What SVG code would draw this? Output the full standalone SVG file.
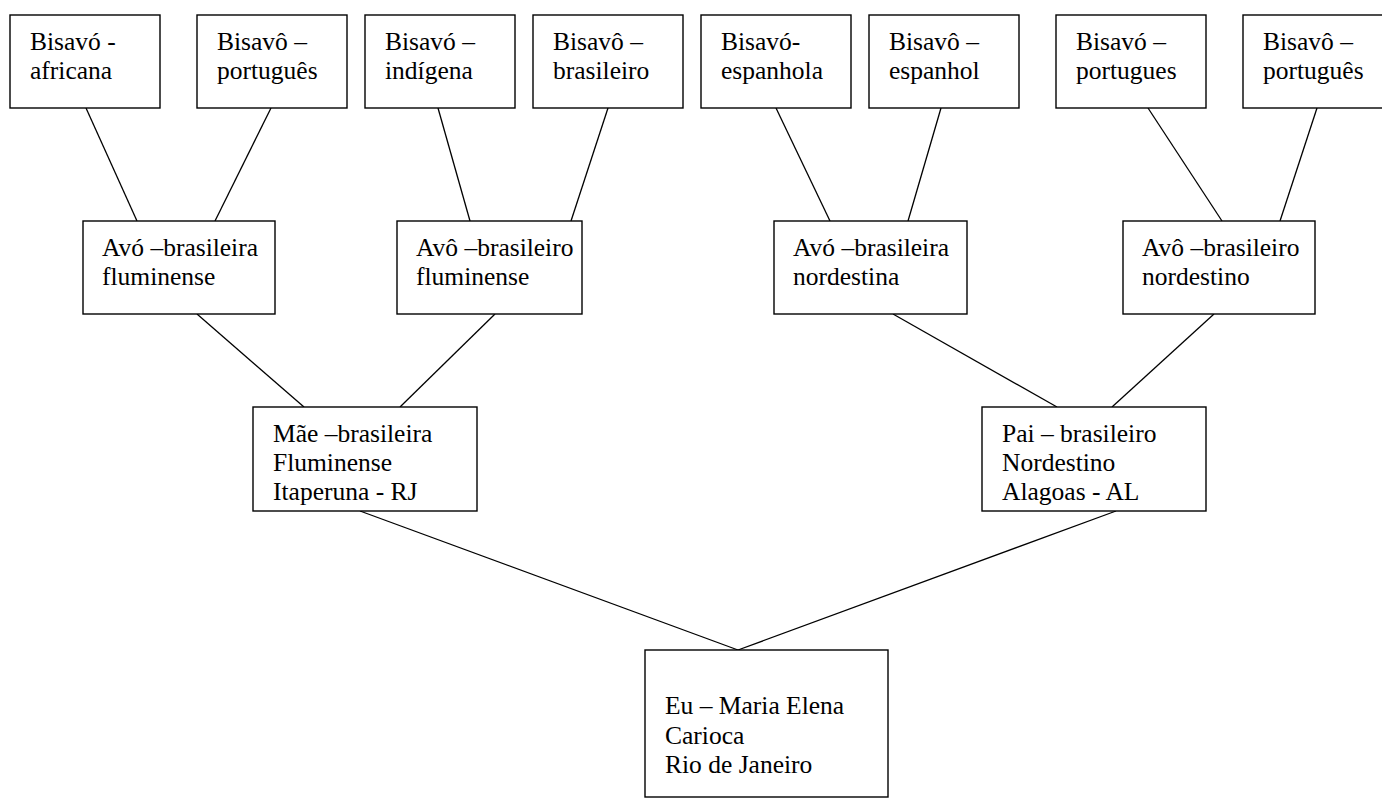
<svg xmlns="http://www.w3.org/2000/svg" width="1382" height="810" viewBox="0 0 1382 810">
<style>
rect{fill:#fff;stroke:#000;stroke-width:1.4}
line{stroke:#000;stroke-width:1.3}
text{font-family:"Liberation Serif","Times New Roman",serif;font-size:25.5px;fill:#000}
</style>
<rect x="0" y="0" width="1382" height="810" style="stroke:none"/>
<g id="connectors">
<line x1="86" y1="108" x2="137" y2="221"/>
<line x1="271" y1="108" x2="215" y2="221"/>
<line x1="438" y1="108" x2="470" y2="221"/>
<line x1="608" y1="108" x2="571" y2="221"/>
<line x1="776" y1="108" x2="830" y2="221"/>
<line x1="941" y1="108" x2="908" y2="221"/>
<line x1="1148" y1="108" x2="1222" y2="221"/>
<line x1="1317" y1="108" x2="1280" y2="221"/>
<line x1="197" y1="314" x2="304" y2="407"/>
<line x1="495" y1="314" x2="400" y2="407"/>
<line x1="893" y1="314" x2="1057" y2="407"/>
<line x1="1214" y1="314" x2="1112" y2="407"/>
<line x1="360" y1="511" x2="738" y2="650"/>
<line x1="1116" y1="511" x2="738" y2="650"/>
</g>
<g id="bisavo1"><rect x="10" y="15" width="150" height="93"/><text x="30" y="50">Bisavó -</text><text x="30" y="79">africana</text></g>
<g id="bisavo2"><rect x="197" y="15" width="150" height="93"/><text x="217" y="50">Bisavô –</text><text x="217" y="79">português</text></g>
<g id="bisavo3"><rect x="365" y="15" width="150" height="93"/><text x="385" y="50">Bisavó –</text><text x="385" y="79">indígena</text></g>
<g id="bisavo4"><rect x="533" y="15" width="150" height="93"/><text x="553" y="50">Bisavô –</text><text x="553" y="79">brasileiro</text></g>
<g id="bisavo5"><rect x="701" y="15" width="150" height="93"/><text x="721" y="50">Bisavó-</text><text x="721" y="79">espanhola</text></g>
<g id="bisavo6"><rect x="869" y="15" width="150" height="93"/><text x="889" y="50">Bisavô –</text><text x="889" y="79">espanhol</text></g>
<g id="bisavo7"><rect x="1056" y="15" width="150" height="93"/><text x="1076" y="50">Bisavó –</text><text x="1076" y="79">portugues</text></g>
<g id="bisavo8"><rect x="1243" y="15" width="150" height="93"/><text x="1263" y="50">Bisavô –</text><text x="1263" y="79">português</text></g>
<g id="avo1"><rect x="83" y="221" width="192" height="93"/><text x="102" y="256">Avó –brasileira</text><text x="102" y="285">fluminense</text></g>
<g id="avo2"><rect x="397" y="221" width="185" height="93"/><text x="416" y="256">Avô –brasileiro</text><text x="416" y="285">fluminense</text></g>
<g id="avo3"><rect x="774" y="221" width="193" height="93"/><text x="793" y="256">Avó –brasileira</text><text x="793" y="285">nordestina</text></g>
<g id="avo4"><rect x="1123" y="221" width="192" height="93"/><text x="1142" y="256">Avô –brasileiro</text><text x="1142" y="285">nordestino</text></g>
<g id="mae"><rect x="253" y="407" width="224" height="104"/><text x="273" y="442">Mãe –brasileira</text><text x="273" y="471">Fluminense</text><text x="273" y="500">Itaperuna - RJ</text></g>
<g id="pai"><rect x="982" y="407" width="224" height="104"/><text x="1002" y="442">Pai – brasileiro</text><text x="1002" y="471">Nordestino</text><text x="1002" y="500">Alagoas - AL</text></g>
<g id="eu"><rect x="645" y="650" width="243" height="147"/><text x="665" y="714">Eu – Maria Elena</text><text x="665" y="744">Carioca</text><text x="665" y="773">Rio de Janeiro</text></g>
</svg>
